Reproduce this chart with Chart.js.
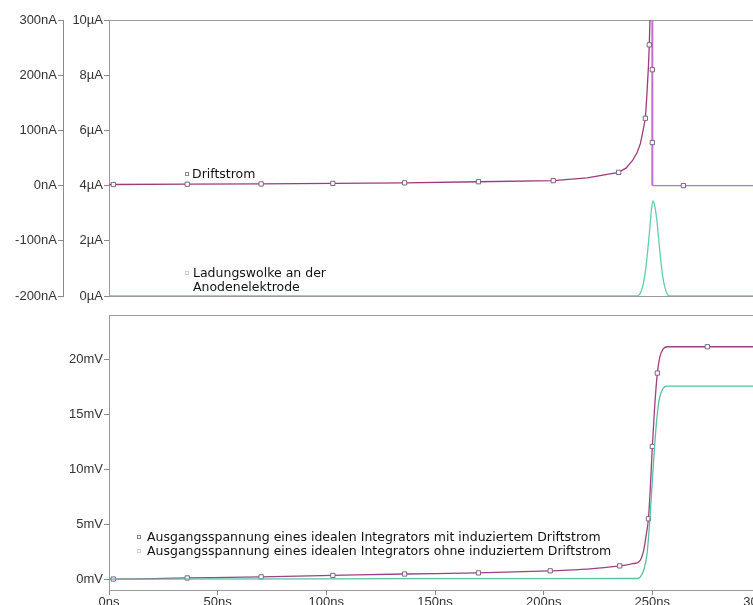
<!DOCTYPE html>
<html>
<head>
<meta charset="utf-8">
<script src="https://cdn.jsdelivr.net/npm/chart.js@4.4.0/dist/chart.umd.min.js"></script>
<style>
  html, body { margin: 0; padding: 0; background: #fff; overflow: hidden; width: 753px; height: 605px; }
  canvas { position: absolute; left: 0; }
  #topChart { top: 0; }
  #bottomChart { top: 300px; }
</style>
</head>
<body>
<canvas id="topChart" width="800" height="305" style="width:800px;height:305px"></canvas>
<canvas id="bottomChart" width="800" height="320" style="width:800px;height:320px"></canvas>
<script>
// Achsen
const nsTicks = [0, 50, 100, 150, 200, 250, 300];
const naTicks = [-200, -100, 0, 100, 200, 300];
const uaTicks = [0, 2, 4, 6, 8, 10];
const mvTicks = [0, 5, 10, 15, 20];

// Driftstrom (nA), 1 = Marker
const driftT    = [0, 2, 36, 70, 103, 136, 170, 204.4, 220, 234.5, 238, 241, 243, 244.5, 245.5, 246.8, 247.5, 248.2, 248.6, 249.1, 249.5, 249.8, 250, 250, 250, 250, 264.3, 300];
const driftNa   = [2, 2, 2.5, 3, 4, 5, 7, 9, 14, 24, 32, 46, 60, 76, 95, 122, 165, 215, 255, 330, 600, 1500, 1500, 210, 78, 0, 0, 0];
const driftMark = [0, 1, 1, 1, 1, 1, 1, 1, 0, 1, 0, 0, 0, 0, 0, 1, 0, 0, 1, 0, 0, 0, 0, 1, 1, 0, 1, 0];

// Ladungswolke an der Anodenelektrode (µA)
const cloudT  = [0, 243, 244, 245, 246, 247, 248, 249, 249.7, 250.3, 251, 252, 253, 254, 255, 256, 257, 258, 300];
const cloudUa = [0, 0, 0.05, 0.2, 0.5, 1.0, 1.75, 2.6, 3.2, 3.45, 3.3, 2.8, 2.0, 1.2, 0.6, 0.25, 0.05, 0, 0];

// Ausgangsspannung mit induziertem Driftstrom (mV)
const withT    = [0, 2, 36, 70, 103, 136, 170, 203, 220, 235, 241, 244, 246, 247, 248.2, 249, 250, 251, 252.3, 253.5, 255, 257, 275.3, 300];
const withMv   = [0, 0, 0.1, 0.2, 0.33, 0.46, 0.56, 0.75, 0.9, 1.2, 1.4, 1.6, 2.6, 3.8, 5.5, 8.0, 12.1, 15.5, 18.8, 20.3, 21.0, 21.2, 21.2, 21.2];
const withMark = [0, 1, 1, 1, 1, 1, 1, 1, 0, 1, 0, 0, 0, 0, 1, 0, 1, 0, 1, 0, 0, 0, 1, 0];

// Ausgangsspannung ohne induziertem Driftstrom (mV)
const withoutT  = [0, 100, 200, 243, 244.5, 246, 247.5, 249, 250, 251, 252, 253, 254, 255, 256.5, 260, 300];
const withoutMv = [0, 0.02, 0.04, 0.05, 0.2, 0.8, 2.2, 5.8, 9.0, 12.0, 14.5, 16.2, 17.0, 17.4, 17.6, 17.6, 17.6];

const pts = (xs, ys) => xs.map((x, i) => ({ x: x, y: ys[i] }));

const tickFont = { family: '"Liberation Sans", Arial, sans-serif', size: 13 };
const tickColor = '#333';
const axisColor = '#8a8a8a';

// Rahmen um die Plotfläche
const frame = {
  id: 'frame',
  beforeDatasetsDraw(chart) {
    const { ctx, chartArea: a } = chart;
    ctx.save();
    ctx.strokeStyle = '#9a9a9a';
    ctx.lineWidth = 1;
    ctx.strokeRect(Math.round(a.left) + 0.5, Math.round(a.top) + 0.5, a.right - a.left, a.bottom - a.top);
    ctx.restore();
  }
};

// Beschriftungen der Kurven
const notes = {
  id: 'notes',
  afterDatasetsDraw(chart, args, opts) {
    const { ctx } = chart;
    const xs = chart.scales.x;
    (opts.items || []).forEach(it => {
      const ys = chart.scales[it.axis];
      const px = Math.round(xs.getPixelForValue(it.t));
      const py = Math.round(ys.getPixelForValue(it.v));
      ctx.save();
      ctx.strokeStyle = it.mark;
      ctx.lineWidth = 1;
      ctx.strokeRect(px - 1.5, py - 1.5, 3, 3);
      ctx.fillStyle = '#111';
      ctx.font = '12.5px "DejaVu Sans", Verdana, sans-serif';
      ctx.textBaseline = 'middle';
      it.lines.forEach((s, i) => ctx.fillText(s, px + it.gap, py + 1 + i * 14));
      ctx.restore();
    });
  }
};

function yAxis(min, max, ticks, unit, width, weight) {
  return {
    position: 'left',
    weight: weight,
    min: min,
    max: max,
    afterBuildTicks: s => { s.ticks = ticks.map(v => ({ value: v })); },
    afterFit: s => { s.width = width; },
    ticks: { callback: v => v + unit, font: tickFont, color: tickColor, padding: 1 },
    grid: { drawOnChartArea: false, tickLength: 5, color: axisColor },
    border: { color: axisColor }
  };
}

// obere Grafik: Ströme
new Chart(document.getElementById('topChart'), {
  type: 'line',
  data: {
    datasets: [
      {
        data: pts(cloudT, cloudUa),
        yAxisID: 'yUa',
        borderColor: '#62cdb0',
        borderWidth: 1.3,
        pointRadius: 0,
        cubicInterpolationMode: 'monotone'
      },
      {
        data: pts(driftT, driftNa),
        yAxisID: 'yNa',
        borderColor: '#9c3c78',
        borderWidth: 1.3,
        tension: 0,
        segment: {
          borderColor: c => c.p0.parsed.x >= 249.95 ? '#c070d0' : '#9c3c78',
          borderWidth: c => c.p0.parsed.x >= 249.95 && c.p1.parsed.x < 250.01 ? 2 : 1.3
        },
        pointStyle: 'rect',
        pointRadius: c => driftMark[c.dataIndex] ? 3 : 0,
        pointBackgroundColor: '#fff',
        pointBorderColor: '#7d6688',
        pointBorderWidth: 1
      }
    ]
  },
  options: {
    responsive: false,
    animation: false,
    layout: { padding: { top: 20, right: 39, bottom: 9, left: 0 } },
    scales: {
      x: { type: 'linear', min: 0, max: 300, display: false },
      yNa: yAxis(-200, 300, naTicks, 'nA', 63, 1),
      yUa: yAxis(0, 10, uaTicks, 'µA', 46, 0)
    },
    plugins: {
      legend: { display: false },
      tooltip: { enabled: false },
      notes: {
        items: [
          { axis: 'yNa', t: 36, v: 21, gap: 5, mark: '#888', lines: ['Driftstrom'] },
          { axis: 'yUa', t: 36, v: 0.82, gap: 6, mark: '#cfcfcf', lines: ['Ladungswolke an der', 'Anodenelektrode'] }
        ]
      }
    }
  },
  plugins: [frame, notes]
});

// untere Grafik: Ausgangsspannungen
new Chart(document.getElementById('bottomChart'), {
  type: 'line',
  data: {
    datasets: [
      {
        data: pts(withoutT, withoutMv),
        yAxisID: 'y',
        borderColor: '#5bbfa5',
        borderWidth: 1.3,
        pointRadius: 0,
        cubicInterpolationMode: 'monotone'
      },
      {
        data: pts(withT, withMv),
        yAxisID: 'y',
        borderColor: '#9a4282',
        borderWidth: 1.3,
        cubicInterpolationMode: 'monotone',
        pointStyle: 'rect',
        pointRadius: c => withMark[c.dataIndex] ? 3 : 0,
        pointBackgroundColor: '#fff',
        pointBorderColor: '#7d6688',
        pointBorderWidth: 1
      }
    ]
  },
  options: {
    responsive: false,
    animation: false,
    layout: { padding: { top: 15, right: 39, bottom: 0, left: 0 } },
    scales: {
      x: {
        type: 'linear',
        min: 0,
        max: 300,
        afterBuildTicks: s => { s.ticks = nsTicks.map(v => ({ value: v })); },
        afterFit: s => { s.height = 30; },
        ticks: { callback: v => v + 'ns', font: tickFont, color: tickColor, padding: 0, maxRotation: 0, autoSkip: false },
        grid: { drawOnChartArea: false, tickLength: 5, color: axisColor },
        border: { color: axisColor }
      },
      y: yAxis(-1.0, 24.1, mvTicks, 'mV', 109, 0)
    },
    plugins: {
      legend: { display: false },
      tooltip: { enabled: false },
      notes: {
        items: [
          { axis: 'y', t: 13.8, v: 3.84, gap: 8, mark: '#888', lines: ['Ausgangsspannung eines idealen Integrators mit induziertem Driftstrom'] },
          { axis: 'y', t: 13.8, v: 2.56, gap: 8, mark: '#cfcfcf', lines: ['Ausgangsspannung eines idealen Integrators ohne induziertem Driftstrom'] }
        ]
      }
    }
  },
  plugins: [frame, notes]
});
</script>
</body>
</html>
